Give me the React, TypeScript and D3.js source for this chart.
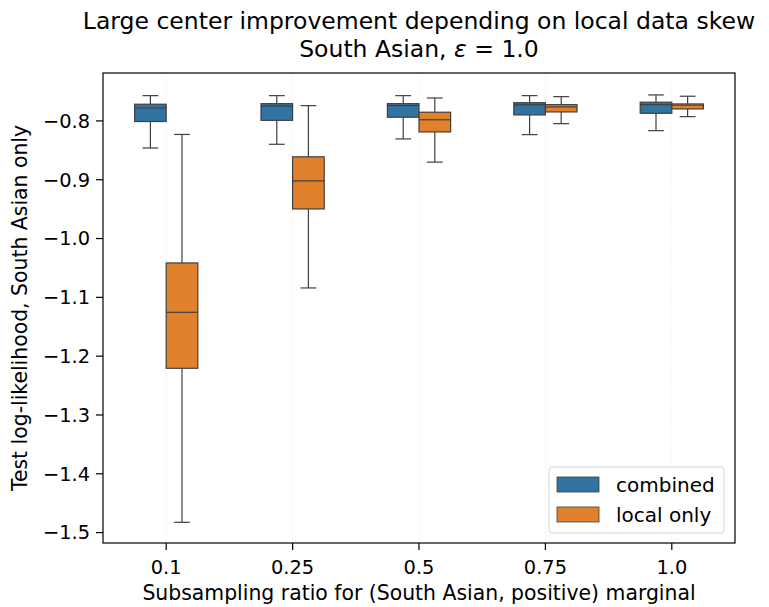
import * as React from "react";
import * as d3 from "d3";

// subsampling ratios on the x axis
const ratios = ["0.1", "0.25", "0.5", "0.75", "1.0"];
const hues = ["combined", "local only"];
const hueColors = ["#3274a1", "#e1812c"];

// five-number summaries: [low whisker, q1, median, q3, high whisker]
const combinedStats = [
  [-0.846, -0.801, -0.778, -0.7716, -0.757],
  [-0.8397, -0.799, -0.7745, -0.7706, -0.757],
  [-0.8306, -0.7937, -0.774, -0.7706, -0.757],
  [-0.8233, -0.7898, -0.7728, -0.769, -0.757],
  [-0.8165, -0.787, -0.7723, -0.7682, -0.7558],
];
const localStats = [
  [-1.4825, -1.2206, -1.1254, -1.0415, -0.823],
  [-1.084, -0.9497, -0.902, -0.861, -0.774],
  [-0.87, -0.8187, -0.798, -0.7852, -0.761],
  [-0.8046, -0.7847, -0.7762, -0.7723, -0.7587],
  [-0.7927, -0.7796, -0.7733, -0.7711, -0.758],
];
const yTicks = [-0.8, -0.9, -1.0, -1.1, -1.2, -1.3, -1.4, -1.5];

const width = 769;
const height = 607;
const margin = { top: 73, right: 34, bottom: 64, left: 103 };
const edge = "#3f3f3f";
const font = "DejaVu Sans, sans-serif";

const innerW = width - margin.left - margin.right;
const innerH = height - margin.top - margin.bottom;

const x = d3.scaleBand().domain(ratios).range([margin.left, margin.left + innerW]);
const y = d3
  .scaleLinear()
  .domain([-1.5177, -0.7185])
  .range([margin.top + innerH, margin.top]);

const BoxPlot = ({ x, w, stats, fill }) => {
  const [lo, q1, med, q3, hi] = stats;
  const cx = x + w / 2;
  return (
    <g stroke={edge} strokeWidth={1.2}>
      <line x1={cx} x2={cx} y1={y(hi)} y2={y(q3)} />
      <line x1={cx} x2={cx} y1={y(q1)} y2={y(lo)} />
      <line x1={cx - w / 4} x2={cx + w / 4} y1={y(hi)} y2={y(hi)} />
      <line x1={cx - w / 4} x2={cx + w / 4} y1={y(lo)} y2={y(lo)} />
      <rect x={x} y={y(q3)} width={w} height={y(q1) - y(q3)} fill={fill} />
      <line x1={x} x2={x + w} y1={y(med)} y2={y(med)} />
    </g>
  );
};

const App = () => {
  const bw = x.bandwidth();
  const groupW = bw * 0.5;
  const hueW = groupW / 2;
  const x0 = margin.left;
  const x1 = margin.left + innerW;
  const y0 = margin.top;
  const y1 = margin.top + innerH;

  return (
    <svg width={width} height={height} style={{ position: "absolute", left: 0, top: 0 }} fontFamily={font}>
      <rect width={width} height={height} fill="white" />

      {/* faint vertical grid at category centres */}
      {ratios.map((r) => (
        <line
          key={"g" + r}
          x1={x(r) + bw / 2}
          x2={x(r) + bw / 2}
          y1={y0}
          y2={y1}
          stroke="#ebebeb"
          strokeWidth={0.8}
          strokeDasharray="1,1.5"
        />
      ))}

      {ratios.map((r, i) => {
        const cx = x(r) + bw / 2;
        return (
          <g key={r}>
            <BoxPlot x={cx - groupW / 2} w={hueW} stats={combinedStats[i]} fill={hueColors[0]} />
            <BoxPlot x={cx} w={hueW} stats={localStats[i]} fill={hueColors[1]} />
          </g>
        );
      })}

      {/* frame */}
      <rect x={x0} y={y0} width={innerW} height={innerH} fill="none" stroke="black" strokeWidth={1.2} />

      {/* y ticks */}
      {yTicks.map((t) => (
        <g key={t}>
          <line x1={x0 - 7} x2={x0} y1={y(t)} y2={y(t)} stroke="black" strokeWidth={1.2} />
          <text x={x0 - 13} y={y(t)} dy="0.35em" textAnchor="end" fontSize={19.4}>
            {"\u2212" + Math.abs(t).toFixed(1)}
          </text>
        </g>
      ))}

      {/* x ticks */}
      {ratios.map((r) => (
        <g key={"x" + r}>
          <line x1={x(r) + bw / 2} x2={x(r) + bw / 2} y1={y1} y2={y1 + 7} stroke="black" strokeWidth={1.2} />
          <text x={x(r) + bw / 2} y={y1 + 31} textAnchor="middle" fontSize={19.4}>
            {r}
          </text>
        </g>
      ))}

      {/* labels */}
      <text x={(x0 + x1) / 2} y={600} textAnchor="middle" fontSize={20.4}>
        Subsampling ratio for (South Asian, positive) marginal
      </text>
      <text
        transform={`translate(27,${(y0 + y1) / 2}) rotate(-90)`}
        textAnchor="middle"
        fontSize={20.4}
      >
        Test log-likelihood, South Asian only
      </text>
      <text x={(x0 + x1) / 2} y={29} textAnchor="middle" fontSize={23.5}>
        Large center improvement depending on local data skew
      </text>
      <text x={(x0 + x1) / 2} y={57} textAnchor="middle" fontSize={23.5}>
        South Asian, <tspan fontStyle="italic">ε</tspan> = 1.0
      </text>

      {/* legend */}
      <g>
        <rect x={549} y={467} width={175} height={66} rx={3} fill="white" fillOpacity={0.8} stroke="#d5d5d5" />
        {hues.map((h, i) => (
          <g key={h}>
            <rect x={557} y={477 + i * 30} width={42} height={15} fill={hueColors[i]} stroke={edge} strokeWidth={0.8} />
            <text x={616} y={484.5 + i * 30} dy="0.35em" fontSize={20}>
              {h}
            </text>
          </g>
        ))}
      </g>
    </svg>
  );
};

export default App;
